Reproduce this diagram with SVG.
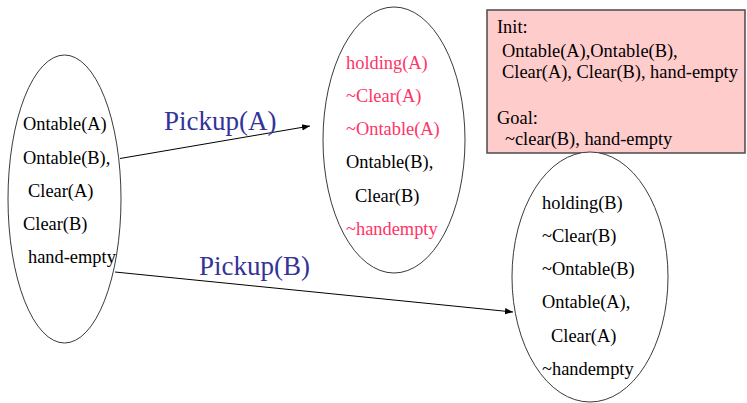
<svg xmlns="http://www.w3.org/2000/svg" width="747" height="403" viewBox="0 0 747 403">
  <style>
    .state { fill: #ffffff; stroke: #3a3a3a; stroke-width: 1; }
    .t { font-family: "Liberation Serif", "Times New Roman", serif; font-size: 18.4px; fill: #000000; }
    .neg { fill: #ff3366; }
    .act { font-family: "Liberation Serif", "Times New Roman", serif; font-size: 27px; fill: #333399; }
    .edge { stroke: #000000; stroke-width: 1; fill: none; marker-end: url(#arrow); }
    .note { fill: #ffcccc; stroke: #4a4a4a; stroke-width: 1.5; }
  </style>
  <defs>
    <marker id="arrow" viewBox="0 0 10 10" refX="10" refY="5" markerWidth="8" markerHeight="8" markerUnits="userSpaceOnUse" orient="auto">
      <path d="M0,1 L10,5 L0,9 Z" fill="#000000"/>
    </marker>
  </defs>

  <!-- problem statement -->
  <g id="problem">
    <rect class="note" x="487" y="10" width="258" height="143"/>
    <text class="t" x="497" y="33">Init:</text>
    <text class="t" x="502" y="57">Ontable(A),Ontable(B),</text>
    <text class="t" x="502" y="78">Clear(A), Clear(B), hand-empty</text>
    <text class="t" x="497" y="124">Goal:</text>
    <text class="t" x="505" y="145">~clear(B), hand-empty</text>
  </g>

  <!-- initial state -->
  <g id="state-init">
    <ellipse class="state" cx="64.5" cy="199" rx="56.5" ry="144"/>
    <text class="t" x="23" y="130">Ontable(A)</text>
    <text class="t" x="23" y="164">Ontable(B),</text>
    <text class="t" x="28" y="197">Clear(A)</text>
    <text class="t" x="23" y="230">Clear(B)</text>
    <text class="t" x="28" y="263">hand-empty</text>
  </g>

  <!-- state after Pickup(A) -->
  <g id="state-pickup-a">
    <ellipse class="state" cx="394" cy="140" rx="71" ry="133"/>
    <text class="t neg" x="346" y="69">holding(A)</text>
    <text class="t neg" x="346" y="102">~Clear(A)</text>
    <text class="t neg" x="346" y="135">~Ontable(A)</text>
    <text class="t" x="346" y="168">Ontable(B),</text>
    <text class="t" x="355" y="202">Clear(B)</text>
    <text class="t neg" x="346" y="235">~handempty</text>
  </g>

  <!-- state after Pickup(B) -->
  <g id="state-pickup-b">
    <ellipse class="state" cx="590" cy="277" rx="78" ry="125"/>
    <text class="t" x="542" y="209">holding(B)</text>
    <text class="t" x="542" y="242">~Clear(B)</text>
    <text class="t" x="542" y="275">~Ontable(B)</text>
    <text class="t" x="542" y="308">Ontable(A),</text>
    <text class="t" x="551" y="342">Clear(A)</text>
    <text class="t" x="542" y="375">~handempty</text>
  </g>

  <!-- actions -->
  <g id="connectors">
    <line class="edge" x1="120" y1="158.5" x2="310" y2="126"/>
    <text class="act" x="164" y="130">Pickup(A)</text>
    <line class="edge" x1="115" y1="272" x2="513" y2="312"/>
    <text class="act" x="199" y="275">Pickup(B)</text>
  </g>
</svg>
